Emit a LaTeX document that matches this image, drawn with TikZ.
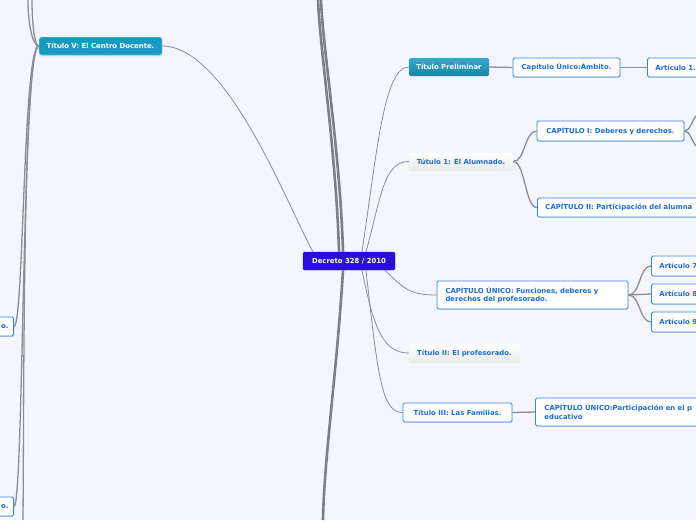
\documentclass[tikz,border=0pt]{standalone}
\usepackage{fontspec}
\setmainfont{DejaVu Sans}
\usepackage{xcolor}
\usepackage{tikz}
\usetikzlibrary{positioning, shadows}

\definecolor{bgblue}{RGB}{243,246,254}
\definecolor{rootviolet}{RGB}{44,14,218}
\definecolor{tealtop}{RGB}{52,170,204}
\definecolor{tealbot}{RGB}{24,134,168}
\definecolor{tealfill}{RGB}{24,154,192}
\definecolor{mapblue}{RGB}{28,108,216}
\definecolor{edgeblue}{RGB}{48,134,232}
\definecolor{wire}{RGB}{140,140,148}

\begin{document}
\begin{tikzpicture}[x=1pt, y=-1pt,
    every node/.style={font=\fontsize{6.9}{8.4}\selectfont\bfseries, inner sep=0pt},
    rootbox/.style={fill=rootviolet, draw=rootviolet!80!black, rounded corners=1.5pt, text=white, minimum height=18pt},
    titlebox/.style={fill=tealfill, draw=white, rounded corners=1.5pt, text=white, minimum height=18pt,
      drop shadow={shadow xshift=0.4pt, shadow yshift=-1pt, opacity=0.35}},
    prelimbox/.style={top color=tealtop, bottom color=tealbot, draw=none, rounded corners=1.5pt, text=white, minimum height=18pt},
    greybox/.style={top color=white, bottom color=black!8, draw=none, text=mapblue, minimum height=17pt,
      drop shadow={shadow xshift=0.3pt, shadow yshift=-0.8pt, opacity=0.15}},
    topicbox/.style={fill=white, draw=edgeblue, line width=0.9pt, rounded corners=1.5pt, text=mapblue, minimum height=19pt,
      drop shadow={shadow xshift=0.4pt, shadow yshift=-0.9pt, opacity=0.3}},
    thinwire/.style={draw=wire, line width=0.8pt},
    midwire/.style={draw=wire, line width=1.3pt},
    thickwire/.style={draw=wire!90!black, line width=2.6pt}]

      % Background and frame
      \fill[bgblue] (0,0) rectangle (696,520);
      \useasboundingbox (0,0) rectangle (696,520);
      \clip (0,0) rectangle (696,520);

      % Root node
      \node[rootbox, minimum width=92pt] (root) at (349, 261) {Decreto 328 / 2010};

      % Left branch
      \node[titlebox, minimum width=123pt] (centro) at (100.5, 46) {Título V: El Centro Docente.};
      \node[topicbox, minimum width=80pt, text width=70pt, align=right, anchor=east] (leftone) at (14, 326.5) {o.};
      \node[topicbox, minimum width=80pt, text width=70pt, align=right, anchor=east] (lefttwo) at (14, 506.5) {o.};

      % Right branches
      \node[prelimbox, minimum width=80pt] (prelim) at (449, 67) {Título Preliminar};
      \node[topicbox, minimum width=107pt] (ambito) at (566.5, 67.5) {Capítulo Único:Ámbito.};
      \node[topicbox, minimum width=90pt, text width=74pt, align=left, anchor=west] (art1) at (647, 67.5) {Artículo 1.};

      \node[greybox, minimum width=104pt] (alumnado) at (461, 161.5) {Tútulo 1: El Alumnado.};
      \node[topicbox, minimum width=147pt, minimum height=20pt] (capone) at (610.5, 131) {CAPÍTULO I: Deberes y derechos.};
      \node[topicbox, minimum width=190pt, minimum height=19pt, text width=174pt, align=left, anchor=west] (captwo) at (537, 207.5) {CAPÍTULO II: Participación del alumna};

      \node[topicbox, minimum width=191pt, minimum height=28pt, text width=174pt, align=left] (funciones) at (532.5, 295) {CAPÍTULO ÚNICO: Funciones, deberes y\\derechos del profesorado.};
      \node[topicbox, minimum width=80pt, minimum height=20pt, text width=64pt, align=left, anchor=west] (art7) at (651, 266) {Artículo 7};
      \node[topicbox, minimum width=80pt, minimum height=20pt, text width=64pt, align=left, anchor=west] (art8) at (651, 294) {Artículo 8};
      \node[topicbox, minimum width=80pt, minimum height=20pt, text width=64pt, align=left, anchor=west] (art9) at (651, 322) {Artículo 9};

      \node[greybox, minimum width=111pt, minimum height=18pt] (profesorado) at (464.5, 353) {Título II: El profesorado.};
      \node[topicbox, minimum width=109pt] (familias) at (457.5, 412.5) {Título III: Las Familias.};
      \node[topicbox, minimum width=200pt, minimum height=28pt, text width=182pt, align=left, anchor=west] (participa) at (535, 412) {CAPÍTULO ÚNICO:Participación en el p\\educativo};

      % Free ends off the page
      \coordinate (uptop) at (318, 0);
      \coordinate (uptopb) at (321, 0);
      \coordinate (downend) at (323, 520);
      \coordinate (vtopa) at (28, 0);
      \coordinate (vtopb) at (32, 0);
      \coordinate (vdown) at (23, 520);
      \coordinate (capup) at (696, 116);
      \coordinate (capdown) at (696, 146);

      % Connectors from the root
      \draw[thickwire] ([xshift=-10pt]root.north) .. controls +(-3,-100) and +(2,50) .. (uptop);
      \draw[thickwire] ([xshift=-6pt]root.north) .. controls +(-3,-100) and +(2,50) .. (uptopb);
      \draw[thickwire] ([xshift=-6pt]root.south) .. controls +(-6,100) and +(1,-60) .. (downend);
      \draw[thinwire] ([xshift=-36pt]root.north) .. controls +(-25,-45) and +(65,0) .. (centro.east);
      \draw[thinwire] ([xshift=13pt]root.north) .. controls +(15,-100) and +(-25,0) .. (prelim.west);
      \draw[thinwire] ([xshift=17pt]root.north) .. controls +(15,-55) and +(-25,0) .. (alumnado.west);
      \draw[thinwire] ([xshift=36pt]root.south) .. controls +(20,20) and +(-25,0) .. (funciones.west);
      \draw[thinwire] ([xshift=13pt]root.south) .. controls +(12,60) and +(-25,0) .. (profesorado.west);
      \draw[thinwire] ([xshift=17pt]root.south) .. controls +(12,110) and +(-20,0) .. (familias.west);

      % Connectors of the left branch
      \draw[midwire] (centro.west) .. controls +(-6,0) and +(0,25) .. (vtopa);
      \draw[midwire] (centro.west) .. controls +(-4,0) and +(0,25) .. (vtopb);
      \draw[midwire] (centro.west) .. controls +(-16,0) and +(10,0) .. (leftone.east);
      \draw[midwire] (centro.west) .. controls +(-17,0) and +(10,0) .. (lefttwo.east);
      \draw[midwire] (centro.west) .. controls +(-16,0) and +(1,-120) .. (vdown);

      % Connectors of the right branches
      \draw[midwire] (prelim.east) -- (ambito.west);
      \draw[midwire] (ambito.east) -- (art1.west);
      \draw[midwire] (alumnado.east) .. controls +(12,0) and +(-12,0) .. (capone.west);
      \draw[midwire] (alumnado.east) .. controls +(12,0) and +(-12,0) .. (captwo.west);
      \draw[midwire] (capone.east) .. controls +(6,0) and +(-4,4) .. (capup);
      \draw[midwire] (capone.east) .. controls +(6,0) and +(-4,-4) .. (capdown);
      \draw[midwire] (funciones.east) .. controls +(12,0) and +(-12,0) .. (art7.west);
      \draw[midwire] (funciones.east) -- (art8.west);
      \draw[midwire] (funciones.east) .. controls +(12,0) and +(-12,0) .. (art9.west);
      \draw[midwire] (familias.east) -- (participa.west);
\end{tikzpicture}
\end{document}
